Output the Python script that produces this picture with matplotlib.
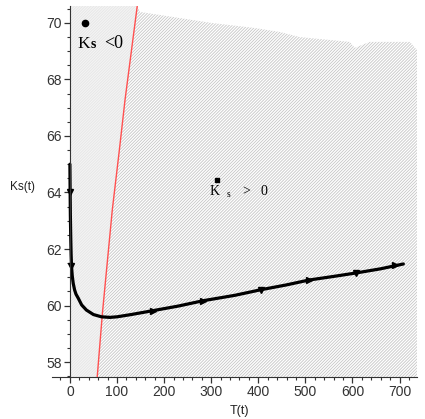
import numpy as np
import matplotlib
matplotlib.use("Agg")
import matplotlib.pyplot as plt
from matplotlib.ticker import MultipleLocator

# ---- data ----
curve_T = [0, 0.4, 1.0, 1.8, 2.6, 3.5, 5, 7, 10, 13, 17.7, 25, 35, 50, 67, 85, 100,
           130, 177, 230, 283, 350, 406, 460, 507, 560, 607, 660, 708]
curve_K = [65.0, 64.2, 63.2, 62.4, 61.8, 61.37, 61.05, 60.79, 60.55, 60.4, 60.26, 60.02,
           59.84, 59.68, 59.6, 59.58, 59.6, 59.68, 59.82, 59.98, 60.17, 60.36, 60.56,
           60.73, 60.9, 61.03, 61.15, 61.3, 61.47]

# arrow markers on the trajectory
arrow_T = [0, 3, 177, 283, 406, 507, 607, 690]
arrow_K = [64.03, 61.4, 59.82, 60.17, 60.56, 60.9, 61.15, 61.42]
arrow_m = ["v", "v", ">", ">", "v", ">", "v", ">"]

# red boundary curve (Ks' = 0)
red_T = [58, 69, 90, 105, 117, 143]
red_K = [57.47, 59.72, 63.38, 65.5, 67.27, 70.6]

# top edge of the hatched region
top_T = [143, 149, 301, 393, 446, 488, 594, 605, 620, 637, 722, 737]
top_K = [70.6, 70.39, 70.0, 69.82, 69.68, 69.5, 69.33, 69.12, 69.22, 69.33, 69.33, 69.04]

xmin, xmax = -38, 737
ymin, ymax = 57.47, 70.6

x_ticks = [0, 100, 200, 300, 400, 500, 600, 700]
y_ticks = [58, 60, 62, 64, 66, 68, 70]

plt.rcParams["hatch.linewidth"] = 0.6

fig = plt.figure(figsize=(4.25, 4.19), dpi=100)
ax = fig.add_axes([52 / 425, 42 / 419, 365 / 425, 371 / 419])
ax.set_xlim(xmin, xmax)
ax.set_ylim(ymin, ymax)

# left region (Ks' < 0): light gray
left_x = [0, red_T[0]] + red_T + [0]
left_y = [ymin, ymin] + red_K + [ymax]
ax.fill(left_x, left_y, facecolor="#f4f4f4", edgecolor="#e6e6e6", hatch="/" * 12,
        linewidth=0, zorder=1)

# right region (Ks' > 0): hatched
right_x = red_T + top_T[1:] + [xmax, red_T[0]]
right_y = red_K + top_K[1:] + [ymin, ymin]
ax.fill(right_x, right_y, facecolor="white", edgecolor="#c6c6c6", hatch="/" * 11,
        linewidth=0, zorder=1)

ax.plot(red_T, red_K, color="#ff5050", lw=1.0, zorder=3)
ax.plot(curve_T, curve_K, color="black", lw=2.3, zorder=4, solid_capstyle="round")
for t, k, m in zip(arrow_T, arrow_K, arrow_m):
    ax.plot([t], [k], marker=m, color="black", ms=5, zorder=5)

# annotations
ax.plot([32], [70.0], marker="o", color="black", ms=4.5, zorder=6)
ax.text(17, 69.13, "K", family="Liberation Serif", fontsize=12.5, zorder=6)
ax.text(44.5, 69.13, "s", family="Liberation Serif", fontsize=10, weight="bold", zorder=6)
ax.text(72, 69.13, "<0", family="Liberation Serif", fontsize=13, zorder=6)

ax.plot([312], [64.44], marker="s", color="black", ms=2.5, zorder=6)
ax.text(297, 63.91, "K", family="Liberation Serif", fontsize=10, zorder=6)
ax.text(332, 63.85, "s", family="Liberation Serif", fontsize=7, zorder=6)
ax.text(367, 63.91, ">", family="Liberation Serif", fontsize=10, zorder=6)
ax.text(405, 63.91, "0", family="Liberation Serif", fontsize=10, zorder=6)

# axes styling (Maple-like)
for s in ["top", "right"]:
    ax.spines[s].set_visible(False)
ax.spines["left"].set_position(("data", 0))
ax.spines["left"].set_color("#333333")
ax.spines["bottom"].set_color("#333333")
ax.spines["left"].set_zorder(7)
ax.set_xticks(x_ticks)
ax.set_yticks(y_ticks)
ax.xaxis.set_minor_locator(MultipleLocator(20))
ax.yaxis.set_minor_locator(MultipleLocator(0.5))
ax.tick_params(which="major", length=4, width=0.9, color="#333333", labelsize=10, pad=2)
ax.tick_params(which="minor", length=2, width=0.8, color="#333333")
for lab in ax.get_xticklabels() + ax.get_yticklabels():
    lab.set_family("Liberation Sans")
    lab.set_color("#333333")

fig.text(10 / 425, 1 - 190 / 419, "Ks(t)", family="Liberation Sans", fontsize=8.5, color="#222222")
fig.text(230 / 425, 1 - 414 / 419, "T(t)", family="Liberation Sans", fontsize=9, color="#222222")

fig.savefig("out.png", dpi=100)
